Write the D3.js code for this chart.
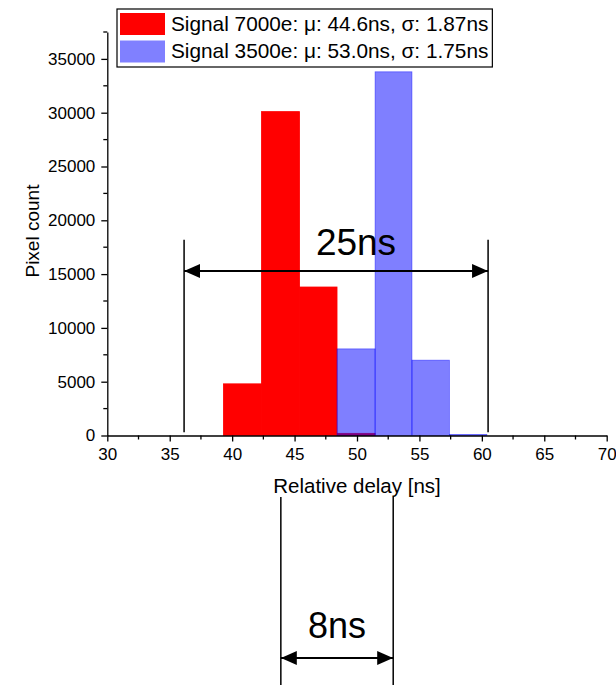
<!DOCTYPE html>
<html>
<head>
<meta charset="utf-8">
<script src="https://cdn.jsdelivr.net/npm/d3@7"></script>
<style>
    body { margin: 0; background: #fff; }
    svg { display: block; font-family: Arial, "Liberation Sans", sans-serif; }
</style>
</head>
<body>
<svg width="616" height="685"></svg>
<script>
// Histogram bin edges (ns) shared by both signals
const binEdges = [39.3, 42.35, 45.4, 48.4, 51.45, 54.4, 57.4, 60.4];
// Counts per bin
const signal7000 = [4800, 30100, 13800, 200, 0, 0, 0];
const signal3500 = [0, 0, 0, 8050, 33800, 7000, 100];
const legendLabels = [
    "Signal 7000e: \u03bc: 44.6ns, \u03c3: 1.87ns",
    "Signal 3500e: \u03bc: 53.0ns, \u03c3: 1.75ns"
];
const xTicks = [30, 35, 40, 45, 50, 55, 60, 65, 70];
const yTicks = [0, 5000, 10000, 15000, 20000, 25000, 30000, 35000];
// Annotation spans (ns)
const wideSpan = [36.15, 60.5];   // "25ns"
const narrowSpan = [43.9, 52.9];  // "8ns"

const svg = d3.select("svg");

const x = d3.scaleLinear().domain([30, 70]).range([107.3, 606.7]);
const y = d3.scaleLinear().domain([0, 37500]).range([435.5, 32]);

// arrow head marker
const defs = svg.append("defs");
defs.append("marker")
    .attr("id", "head")
    .attr("viewBox", "0 0 16 14")
    .attr("refX", 16)
    .attr("refY", 7)
    .attr("markerWidth", 16)
    .attr("markerHeight", 14)
    .attr("markerUnits", "userSpaceOnUse")
    .attr("orient", "auto-start-reverse")
    .append("path")
    .attr("d", "M0,0 L16,7 L0,14 Z")
    .attr("fill", "black");

// Draw bars: red first, blue (semi transparent) on top
function drawBars(counts, cls, fill, opacity) {
    const bins = counts.map((c, i) => ({ x0: binEdges[i], x1: binEdges[i + 1], c: c }))
        .filter(b => b.c > 0);
    svg.append("g").selectAll("rect." + cls)
        .data(bins)
        .enter().append("rect")
        .attr("class", cls)
        .attr("x", d => x(d.x0))
        .attr("width", d => x(d.x1) - x(d.x0))
        .attr("y", d => y(d.c))
        .attr("height", d => y(0) - y(d.c))
        .attr("fill", fill)
        .attr("fill-opacity", opacity)
        .attr("stroke", fill)
        .attr("stroke-opacity", opacity)
        .attr("stroke-width", 0.8);
}
drawBars(signal7000, "red", "#ff0000", 1);
drawBars(signal3500, "blue", "#0000ff", 0.5);

// Axes
const xAxis = svg.append("g")
    .attr("transform", "translate(0," + y(0) + ")")
    .call(d3.axisBottom(x).tickValues(xTicks).tickSize(6).tickPadding(6).tickSizeOuter(0));
xAxis.selectAll(".tick line").attr("stroke-width", 1.3);
xAxis.append("g").selectAll("line")
    .data(d3.range(32.5, 70, 5))
    .enter().append("line")
    .attr("x1", d => x(d)).attr("x2", d => x(d))
    .attr("y1", 0).attr("y2", 4)
    .attr("stroke", "black").attr("stroke-width", 1.3);

const yAxis = svg.append("g")
    .attr("transform", "translate(" + x(30) + ",0)")
    .call(d3.axisLeft(y).tickValues(yTicks).tickFormat(d3.format("d")).tickSize(6).tickPadding(6).tickSizeOuter(0));
yAxis.selectAll(".tick line").attr("stroke-width", 1.3);
yAxis.append("g").selectAll("line")
    .data(d3.range(2500, 37501, 5000))
    .enter().append("line")
    .attr("y1", d => y(d)).attr("y2", d => y(d))
    .attr("x1", 0).attr("x2", -4)
    .attr("stroke", "black").attr("stroke-width", 1.3);

svg.selectAll(".domain").attr("stroke-width", 1.3);
svg.selectAll(".tick text").attr("font-size", 17).attr("fill", "black").attr("font-family", null);

// Axis titles
svg.append("text")
    .attr("x", x(50))
    .attr("y", 493)
    .attr("text-anchor", "middle")
    .attr("font-size", 20.5)
    .text("Relative delay [ns]");
svg.append("text")
    .attr("transform", "translate(39," + y(19000) + ") rotate(-90)")
    .attr("text-anchor", "middle")
    .attr("font-size", 19)
    .text("Pixel count");

// 25ns annotation
const ann = svg.append("g");
wideSpan.forEach(v => {
    ann.append("line")
        .attr("x1", x(v)).attr("x2", x(v))
        .attr("y1", y(18200)).attr("y2", y(300))
        .attr("stroke", "black").attr("stroke-width", 1.5);
});
ann.append("line")
    .attr("x1", x(wideSpan[0])).attr("x2", x(wideSpan[1]))
    .attr("y1", y(15290)).attr("y2", y(15290))
    .attr("stroke", "black").attr("stroke-width", 2)
    .attr("marker-start", "url(#head)")
    .attr("marker-end", "url(#head)");
ann.append("text")
    .attr("x", x(50) - 1).attr("y", y(16780))
    .attr("text-anchor", "middle")
    .attr("font-size", 37)
    .text("25ns");

// 8ns annotation, under the plot
narrowSpan.forEach(v => {
    ann.append("line")
        .attr("x1", x(v)).attr("x2", x(v))
        .attr("y1", 497).attr("y2", 685)
        .attr("stroke", "black").attr("stroke-width", 1.5);
});
ann.append("line")
    .attr("x1", x(narrowSpan[0])).attr("x2", x(narrowSpan[1]))
    .attr("y1", 658).attr("y2", 658)
    .attr("stroke", "black").attr("stroke-width", 2)
    .attr("marker-start", "url(#head)")
    .attr("marker-end", "url(#head)");
ann.append("text")
    .attr("x", (x(narrowSpan[0]) + x(narrowSpan[1])) / 2).attr("y", 638)
    .attr("text-anchor", "middle")
    .attr("font-size", 36)
    .text("8ns");

// Legend
const legend = svg.append("g").attr("transform", "translate(117,9)");
const legendBox = legend.append("rect")
    .attr("x", 0).attr("y", 0)
    .attr("height", 58)
    .attr("fill", "white")
    .attr("stroke", "black")
    .attr("stroke-width", 1.2);
const colours = ["#ff0000", "#8080ff"];
let maxW = 0;
legendLabels.forEach((lab, i) => {
    legend.append("rect")
        .attr("x", 3).attr("y", 4 + i * 27.5)
        .attr("width", 45).attr("height", 22)
        .attr("fill", colours[i]);
    const t = legend.append("text")
        .attr("x", 54).attr("y", 22 + i * 26.5)
        .attr("font-size", 20.8)
        .text(lab);
    maxW = Math.max(maxW, t.node().getComputedTextLength());
});
legendBox.attr("width", 54 + maxW + 4);
</script>
</body>
</html>
